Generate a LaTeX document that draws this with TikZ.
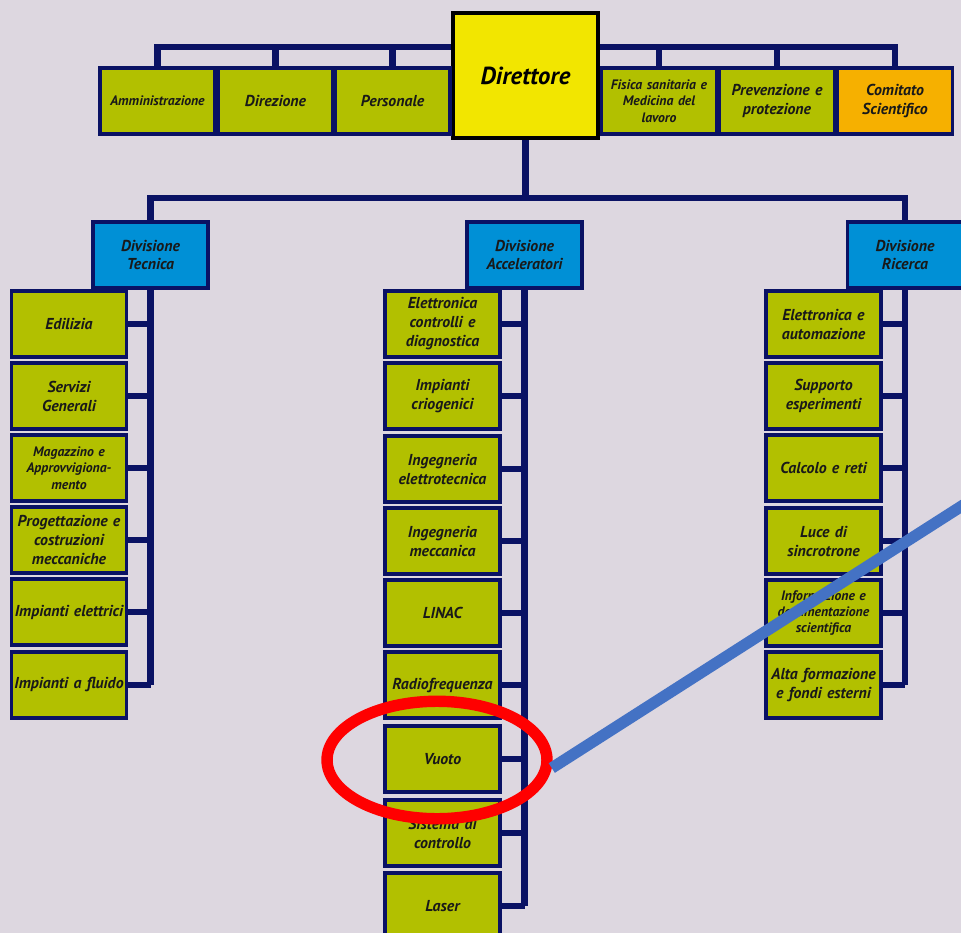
\documentclass[tikz,border=0pt]{standalone}
\usepackage{fontspec}
\setmainfont{PT Sans}
\usetikzlibrary{positioning,shapes.geometric}
\pgfdeclarelayer{bg}
\pgfdeclarelayer{lines}
\pgfsetlayers{bg,lines,main}
\definecolor{navy}{RGB}{10,18,100}
\definecolor{boxgreen}{RGB}{178,192,0}
\definecolor{diryellow}{RGB}{242,230,0}
\definecolor{comorange}{RGB}{246,176,0}
\definecolor{divblue}{RGB}{0,144,214}
\definecolor{paper}{RGB}{221,215,224}
\definecolor{pointer}{RGB}{68,114,196}
\tikzset{
  unit/.style={draw=navy,line width=2.2pt,fill=boxgreen,text width=2.2cm,inner sep=0.05cm,
    minimum height=1.32cm,align=center,text=black!90,font=\fontsize{9}{10.8}\selectfont\bfseries\itshape},
  smallunit/.style={unit,font=\fontsize{7.8}{9.3}\selectfont\bfseries\itshape},
  division/.style={unit,fill=divblue},
  conn/.style={draw=navy,line width=3.6pt}
}

\begin{document}
\begin{tikzpicture}[x=0.02cm,y=-0.02cm]
\begin{pgfonlayer}{bg}
\fill[paper] (0,0) rectangle (961,933);
\end{pgfonlayer}
\clip (0,0) rectangle (961,933);

% vertice
\node[draw=black,line width=2pt,fill=diryellow,minimum width=2.9cm,minimum height=2.5cm,
  font=\fontsize{14}{16}\selectfont\bfseries\itshape] (dir) at (525.5,75.5) {Direttore};
\node[smallunit] (amm) at (157.5,101) {Amministrazione};
\node[unit] (dirz) at (275.5,101) {Direzione};
\node[unit] (pers) at (392.5,101) {Personale};
\node[smallunit] (fis) at (659,101) {Fisica sanitaria e\\Medicina del\\lavoro};
\node[unit] (prev) at (777,101) {Prevenzione e\\protezione};
\node[unit,fill=comorange] (com) at (895,101) {Comitato\\Scientifico};

% divisioni
\node[division] (dt) at (150.5,255) {Divisione\\Tecnica};
\node[division] (da) at (524.5,255) {Divisione\\Acceleratori};
\node[division] (dr) at (905,255) {Divisione\\Ricerca};

% Divisione Tecnica
\node[unit] (edil) at (69,324) {Edilizia};
\node[unit] (serv) at (69,396) {Servizi\\Generali};
\node[smallunit] (mag) at (69,468) {Magazzino e\\Approvvigiona-\\mento};
\node[unit] (prog) at (69,540) {Progettazione e\\costruzioni\\meccaniche};
\node[unit] (elet) at (69,612) {Impianti elettrici};
\node[unit] (flu) at (69,685) {Impianti a fluido};

% Divisione Acceleratori
\node[unit] (ecd) at (442.5,324) {Elettronica\\controlli e\\diagnostica};
\node[unit] (crio) at (442.5,396) {Impianti\\criogenici};
\node[unit] (ieltr) at (442.5,469) {Ingegneria\\elettrotecnica};
\node[unit] (imecc) at (442.5,541) {Ingegneria\\meccanica};
\node[unit] (linac) at (442.5,613) {LINAC};
\node[unit] (rf) at (442.5,685) {Radiofrequenza};
\node[unit] (vuoto) at (442.5,759) {Vuoto};
\node[unit] (sdc) at (442.5,833) {Sistema di\\controllo};
\node[unit] (laser) at (442.5,906) {Laser};

% Divisione Ricerca
\node[unit] (elaut) at (823.5,324) {Elettronica e\\automazione};
\node[unit] (supp) at (823.5,396) {Supporto\\esperimenti};
\node[unit] (calc) at (823.5,468) {Calcolo e reti};
\node[unit] (luce) at (823.5,541) {Luce di\\sincrotrone};
\node[smallunit] (info) at (823.5,613) {Informazione e\\documentazione\\scientifica};
\node[unit] (alta) at (823.5,685) {Alta formazione\\e fondi esterni};

\coordinate (topbar) at (157.5,47);
\coordinate (midbar) at (150.5,198);

\begin{pgfonlayer}{lines}
\draw[conn] (amm.north) -- (topbar) -- (topbar -| com.north) -- (com.north);
\draw[conn] (dirz.north) -- (dirz.north |- topbar);
\draw[conn] (pers.north) -- (pers.north |- topbar);
\draw[conn] (fis.north) -- (fis.north |- topbar);
\draw[conn] (prev.north) -- (prev.north |- topbar);
\draw[conn] (dir.south) -- (dir.south |- midbar);
\draw[conn] (dt.north) -- (midbar) -- (midbar -| dr.north) -- (dr.north);
\draw[conn] (dt.south) -- (dt.south |- flu.east);
\draw[conn] (da.south) -- (da.south |- laser.east);
\draw[conn] (dr.south) -- (dr.south |- alta.east);
\draw[conn] (edil.east) -- (edil.east -| dt.south);
\draw[conn] (serv.east) -- (serv.east -| dt.south);
\draw[conn] (mag.east) -- (mag.east -| dt.south);
\draw[conn] (prog.east) -- (prog.east -| dt.south);
\draw[conn] (elet.east) -- (elet.east -| dt.south);
\draw[conn] (flu.east) -- (flu.east -| dt.south);
\draw[conn] (ecd.east) -- (ecd.east -| da.south);
\draw[conn] (crio.east) -- (crio.east -| da.south);
\draw[conn] (ieltr.east) -- (ieltr.east -| da.south);
\draw[conn] (imecc.east) -- (imecc.east -| da.south);
\draw[conn] (linac.east) -- (linac.east -| da.south);
\draw[conn] (rf.east) -- (rf.east -| da.south);
\draw[conn] (vuoto.east) -- (vuoto.east -| da.south);
\draw[conn] (sdc.east) -- (sdc.east -| da.south);
\draw[conn] (laser.east) -- (laser.east -| da.south);
\draw[conn] (elaut.east) -- (elaut.east -| dr.south);
\draw[conn] (supp.east) -- (supp.east -| dr.south);
\draw[conn] (calc.east) -- (calc.east -| dr.south);
\draw[conn] (luce.east) -- (luce.east -| dr.south);
\draw[conn] (info.east) -- (info.east -| dr.south);
\draw[conn] (alta.east) -- (alta.east -| dr.south);
\end{pgfonlayer}

% evidenziazione
\node[ellipse,draw=red,line width=6.5pt,minimum width=4.4cm,minimum height=2.35cm] (mark) at (437,760) {};
\coordinate (far) at (990,488);
\draw[pointer,line width=6.5pt] (mark.-4) -- (far);
\end{tikzpicture}
\end{document}
